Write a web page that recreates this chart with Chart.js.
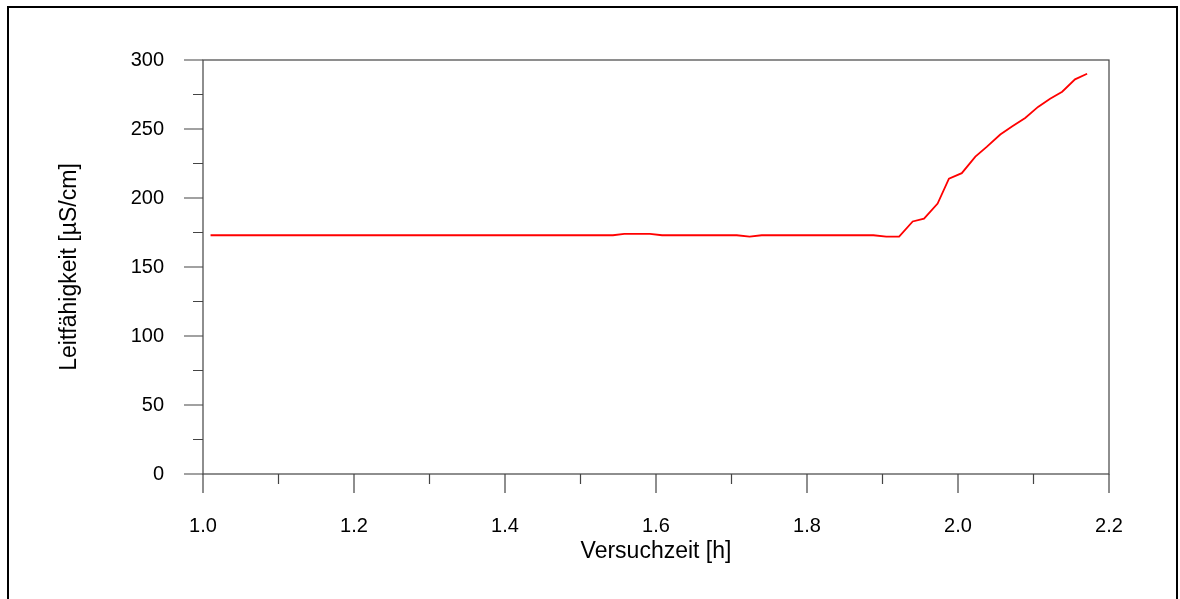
<!DOCTYPE html>
<html>
<head>
<meta charset="utf-8">
<script src="https://cdn.jsdelivr.net/npm/chart.js@4/dist/chart.umd.min.js"></script>
<style>
  html, body { margin: 0; padding: 0; background: #fff; }
  #wrap { position: relative; width: 1180px; height: 599px; }
  canvas { display: block; }
</style>
</head>
<body>
<div id="wrap"><canvas id="c" width="1180" height="599"></canvas></div>
<script>
// Conductivity over test time
const timeH = [1.010, 1.543, 1.558, 1.592, 1.608, 1.707, 1.724, 1.740, 1.888, 1.905,
               1.922, 1.940, 1.955, 1.973, 1.988, 2.005, 2.023, 2.038, 2.056, 2.072,
               2.089, 2.106, 2.122, 2.138, 2.155, 2.171];
const leitfaehigkeit = [173, 173, 174, 174, 173, 173, 172, 173, 173, 172,
                        172, 183, 185, 196, 214, 218, 230, 237, 246, 252,
                        258, 266, 272, 277, 286, 290];

// Axis ticks
const xMajor = [1.0, 1.2, 1.4, 1.6, 1.8, 2.0, 2.2];
const xMinor = [1.1, 1.3, 1.5, 1.7, 1.9, 2.1];
const yMajor = [0, 50, 100, 150, 200, 250, 300];
const yMinor = [25, 75, 125, 175, 225, 275];

const xTitle = 'Versuchzeit [h]';
const yTitle = 'Leitfähigkeit [µS/cm]';

const FONT = "'Liberation Sans', Arial, sans-serif";
const AXIS_COLOR = '#444';

const isIn = (list, v) => list.some(m => Math.abs(m - v) < 1e-9);
const tickSet = (major, minor) => major.concat(minor).sort((a, b) => a - b).map(v => ({ value: v }));

// Page frame, plot frame and outward tick marks
const framePlugin = {
  id: 'frame',
  beforeDraw(chart) {
    const ctx = chart.ctx;
    ctx.save();
    ctx.fillStyle = '#fff';
    ctx.fillRect(0, 0, chart.width, chart.height);
    ctx.fillStyle = '#000';
    ctx.fillRect(7, 6, 2, chart.height - 6);
    ctx.fillRect(7, 6, 1171, 2);
    ctx.fillRect(1176, 6, 2, chart.height - 6);
    ctx.restore();
  },
  afterDatasetsDraw(chart) {
    const { ctx, chartArea: a, scales } = chart;
    ctx.save();
    ctx.strokeStyle = AXIS_COLOR;
    ctx.lineWidth = 1.2;
    ctx.strokeRect(a.left, a.top, a.right - a.left, a.bottom - a.top);
    ctx.beginPath();
    for (const v of yMajor.concat(yMinor)) {
      const y = scales.y.getPixelForValue(v);
      const len = isIn(yMajor, v) ? 19 : 10;
      ctx.moveTo(a.left - len, y);
      ctx.lineTo(a.left, y);
    }
    for (const v of xMajor.concat(xMinor)) {
      const x = scales.x.getPixelForValue(v);
      const len = isIn(xMajor, v) ? 19 : 10;
      ctx.moveTo(x, a.bottom);
      ctx.lineTo(x, a.bottom + len);
    }
    ctx.stroke();
    ctx.restore();
  }
};

new Chart(document.getElementById('c'), {
  type: 'line',
  data: {
    datasets: [{
      data: timeH.map((t, i) => ({ x: t, y: leitfaehigkeit[i] })),
      borderColor: '#ff0000',
      borderWidth: 1.8,
      pointRadius: 0,
      tension: 0,
      fill: false
    }]
  },
  options: {
    responsive: false,
    animation: false,
    events: [],
    layout: { padding: { left: 0, top: 60, right: 71, bottom: 0 } },
    plugins: { legend: { display: false }, tooltip: { enabled: false } },
    scales: {
      x: {
        type: 'linear',
        min: 1.0,
        max: 2.2,
        afterBuildTicks: s => { s.ticks = tickSet(xMajor, xMinor); },
        afterFit: s => { s.height = 125; },
        grid: { display: false, drawTicks: false },
        border: { display: false },
        ticks: {
          autoSkip: false,
          maxRotation: 0,
          padding: 40,
          color: '#000',
          font: { family: FONT, size: 20 },
          callback: v => isIn(xMajor, v) ? v.toFixed(1) : ''
        },
        title: {
          display: true,
          text: xTitle,
          color: '#000',
          font: { family: FONT, size: 23 },
          padding: { top: 0, bottom: 34 }
        }
      },
      y: {
        type: 'linear',
        min: 0,
        max: 300,
        afterBuildTicks: s => { s.ticks = tickSet(yMajor, yMinor); },
        afterFit: s => { s.width = 203; },
        grid: { display: false, drawTicks: false },
        border: { display: false },
        ticks: {
          autoSkip: false,
          padding: 39,
          color: '#000',
          font: { family: FONT, size: 20 },
          callback: v => isIn(yMajor, v) ? String(v) : ''
        },
        title: {
          display: true,
          text: yTitle,
          color: '#000',
          font: { family: FONT, size: 23 },
          padding: { top: 56, bottom: 0 }
        }
      }
    }
  },
  plugins: [framePlugin]
});
</script>
</body>
</html>
